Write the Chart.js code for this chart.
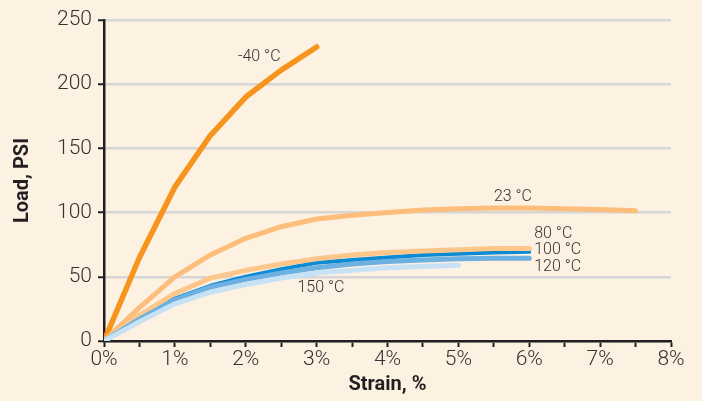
<!DOCTYPE html>
<html>
<head>
<meta charset="utf-8">
<script src="https://cdn.jsdelivr.net/npm/chart.js@4.4.1/dist/chart.umd.min.js"></script>
<style>
  html, body { margin: 0; padding: 0; background: #fdf1e2; }
  #wrap { width: 702px; height: 401px; }
</style>
</head>
<body>
<div id="wrap"><canvas id="chart"></canvas></div>
<script>
// Strain (%) and load (PSI) for each temperature
const strainM40 = [0, 0.5, 1, 1.5, 2, 2.5, 3];
const loadM40 = [0, 65, 120, 160, 190, 211, 229];

const strain23 = [0, 0.5, 1, 1.5, 2, 2.5, 3, 3.5, 4, 4.5, 5, 5.5, 6, 6.5, 7, 7.5];
const load23 = [0, 26, 50, 67, 80, 89, 95, 98, 100, 102, 103, 103.5, 103.5, 103, 102.5, 101.5];

const strainHot = [0, 0.5, 1, 1.5, 2, 2.5, 3, 3.5, 4, 4.5, 5, 5.5, 6];
const load80 = [0, 20, 37, 49, 55, 60, 64, 67, 69, 70, 71, 72, 72];
const load100 = [0, 18, 33, 43, 50, 56, 61, 63, 65, 67, 68, 69, 69.5];
const load120 = [0, 17, 32, 42, 48, 53, 57, 60, 62, 63, 64, 64.5, 64.5];

const strain150 = [0, 0.5, 1, 1.5, 2, 2.5, 3, 3.5, 4, 4.5, 5];
const load150 = [0, 15, 29, 38, 44, 49, 53, 55, 57, 58, 59];

const yTicks = [0, 50, 100, 150, 200, 250];

// series labels, placed in data units
const labelText = ['-40 °C', '23 °C', '80 °C', '100 °C', '120 °C', '150 °C'];
const labelStrain = [2.19, 5.77, 6.07, 6.07, 6.07, 3.06];
const labelLoad = [221, 112, 83, 71, 58, 41];
const labelAlign = ['center', 'center', 'left', 'left', 'left', 'center'];

const FONT = 'Roboto, "Liberation Sans", sans-serif';

function pts(xs, ys) {
    return xs.map((x, i) => ({ x: x, y: ys[i] }));
}

function line(data, color, width) {
    return {
        data: data,
        borderColor: color,
        borderWidth: width,
        pointRadius: 0,
        tension: 0,
        borderCapStyle: 'round',
        borderJoinStyle: 'round',
        fill: false
    };
}

// fondo crema
const bgPlugin = {
    id: 'bg',
    beforeDraw(chart) {
        const c = chart.ctx;
        c.save();
        c.fillStyle = '#fdf1e2';
        c.fillRect(0, 0, chart.width, chart.height);
        c.restore();
    }
};

// etiquetas de temperatura
const labelPlugin = {
    id: 'tempLabels',
    afterDatasetsDraw(chart) {
        const c = chart.ctx;
        const xs = chart.scales.x, ys = chart.scales.y;
        c.save();
        c.font = '300 16px ' + FONT;
        c.fillStyle = '#333333';
        c.textBaseline = 'middle';
        labelText.forEach((t, i) => {
            c.textAlign = labelAlign[i];
            c.fillText(t, xs.getPixelForValue(labelStrain[i]), ys.getPixelForValue(labelLoad[i]));
        });
        c.restore();
    }
};

const ctx = document.getElementById('chart').getContext('2d');
new Chart(ctx, {
    type: 'line',
    data: {
        datasets: [
            line(pts(strain150, load150), '#c7e1f5', 5),
            line(pts(strainHot, load120), '#6db0e2', 5),
            line(pts(strainHot, load80), '#fdc78c', 5),
            line(pts(strainHot, load100), '#0a8bd3', 4),
            line(pts(strain23, load23), '#fdbe7b', 5),
            line(pts(strainM40, loadM40), '#f7941d', 5.5)
        ]
    },
    options: {
        responsive: true,
        maintainAspectRatio: false,
        animation: false,
        layout: { padding: { top: 20, right: 31, left: 0, bottom: 0 } },
        plugins: {
            legend: { display: false },
            tooltip: { enabled: false }
        },
        scales: {
            x: {
                type: 'linear',
                min: 0,
                max: 8,
                afterFit(scale) { scale.height = 60; },
                ticks: {
                    stepSize: 0.5,
                    autoSkip: false,
                    maxRotation: 0,
                    color: '#333333',
                    font: { family: FONT, size: 21, weight: '300' },
                    padding: 0,
                    callback: v => Number.isInteger(v) ? v + '%' : ''
                },
                grid: {
                    drawOnChartArea: false,
                    drawTicks: true,
                    tickLength: 6,
                    tickColor: '#231f20',
                    tickWidth: 2
                },
                border: { color: '#231f20', width: 2.5 },
                title: {
                    display: true,
                    text: 'Strain, %',
                    color: '#231f20',
                    font: { family: FONT, size: 20, weight: 'bold' },
                    padding: { top: 0, bottom: 4 }
                }
            },
            y: {
                min: 0,
                max: 250,
                afterFit(scale) { scale.width = 104; },
                afterBuildTicks(scale) { scale.ticks = yTicks.map(v => ({ value: v })); },
                ticks: {
                    color: '#333333',
                    font: { family: FONT, size: 21, weight: '300' },
                    padding: 6
                },
                grid: {
                    color: '#d6d6d6',
                    lineWidth: 2.5,
                    tickLength: 6,
                    tickColor: '#231f20',
                    tickWidth: 2
                },
                border: { color: '#231f20', width: 2.5 },
                title: {
                    display: true,
                    text: 'Load, PSI',
                    color: '#231f20',
                    font: { family: FONT, size: 20, weight: 'bold' },
                    padding: { top: 11, bottom: 0 }
                }
            }
        }
    },
    plugins: [bgPlugin, labelPlugin]
});
</script>
</body>
</html>
